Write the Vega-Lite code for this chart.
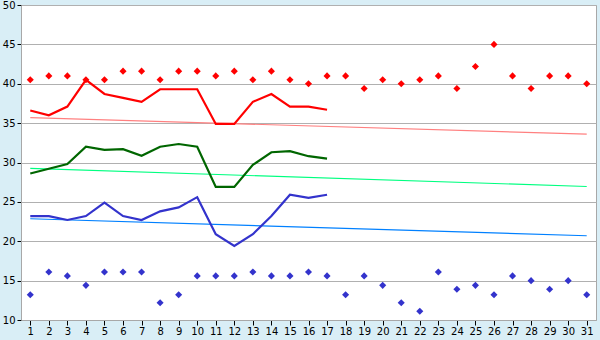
{
  "$schema": "https://vega.github.io/schema/vega-lite/v6.json",
  "autosize": "none",
  "width": 575,
  "height": 315,
  "padding": {"left": 21, "top": 5, "right": 4, "bottom": 20},
  "background": "#d9eef6",
  "config": {
    "view": {"fill": "white", "stroke": "#a8a8a8", "strokeWidth": 1},
    "axis": {"labelFont": "DejaVu Sans", "labelFontSize": 10, "labelColor": "#000000", "domainColor": "#a8a8a8", "tickColor": "#000000", "title": null}
  },
  "datasets": {
    "avg": [
      {"day": 1, "s": "max", "v": 36.6}, {"day": 2, "s": "max", "v": 36.0}, {"day": 3, "s": "max", "v": 37.1}, {"day": 4, "s": "max", "v": 40.5}, {"day": 5, "s": "max", "v": 38.7}, {"day": 6, "s": "max", "v": 38.2}, {"day": 7, "s": "max", "v": 37.7}, {"day": 8, "s": "max", "v": 39.3}, {"day": 9, "s": "max", "v": 39.3}, {"day": 10, "s": "max", "v": 39.3}, {"day": 11, "s": "max", "v": 34.9}, {"day": 12, "s": "max", "v": 34.9}, {"day": 13, "s": "max", "v": 37.7}, {"day": 14, "s": "max", "v": 38.7}, {"day": 15, "s": "max", "v": 37.1}, {"day": 16, "s": "max", "v": 37.1}, {"day": 17, "s": "max", "v": 36.7},
      {"day": 1, "s": "mean", "v": 28.6}, {"day": 2, "s": "mean", "v": 29.2}, {"day": 3, "s": "mean", "v": 29.8}, {"day": 4, "s": "mean", "v": 32.0}, {"day": 5, "s": "mean", "v": 31.6}, {"day": 6, "s": "mean", "v": 31.7}, {"day": 7, "s": "mean", "v": 30.85}, {"day": 8, "s": "mean", "v": 32.0}, {"day": 9, "s": "mean", "v": 32.35}, {"day": 10, "s": "mean", "v": 32.0}, {"day": 11, "s": "mean", "v": 26.9}, {"day": 12, "s": "mean", "v": 26.9}, {"day": 13, "s": "mean", "v": 29.7}, {"day": 14, "s": "mean", "v": 31.3}, {"day": 15, "s": "mean", "v": 31.45}, {"day": 16, "s": "mean", "v": 30.8}, {"day": 17, "s": "mean", "v": 30.5},
      {"day": 1, "s": "min", "v": 23.2}, {"day": 2, "s": "min", "v": 23.2}, {"day": 3, "s": "min", "v": 22.7}, {"day": 4, "s": "min", "v": 23.2}, {"day": 5, "s": "min", "v": 24.9}, {"day": 6, "s": "min", "v": 23.2}, {"day": 7, "s": "min", "v": 22.7}, {"day": 8, "s": "min", "v": 23.8}, {"day": 9, "s": "min", "v": 24.3}, {"day": 10, "s": "min", "v": 25.6}, {"day": 11, "s": "min", "v": 20.9}, {"day": 12, "s": "min", "v": 19.4}, {"day": 13, "s": "min", "v": 20.9}, {"day": 14, "s": "min", "v": 23.2}, {"day": 15, "s": "min", "v": 25.9}, {"day": 16, "s": "min", "v": 25.5}, {"day": 17, "s": "min", "v": 25.9}
    ],
    "trend": [
      {"day": 1, "s": "max", "v": 35.7}, {"day": 31, "s": "max", "v": 33.6},
      {"day": 1, "s": "mean", "v": 29.25}, {"day": 31, "s": "mean", "v": 26.95},
      {"day": 1, "s": "min", "v": 22.86}, {"day": 31, "s": "min", "v": 20.7}
    ],
    "pts": [
      {"day": 1, "s": "hi", "v": 40.5}, {"day": 2, "s": "hi", "v": 41.0}, {"day": 3, "s": "hi", "v": 41.0}, {"day": 4, "s": "hi", "v": 40.5}, {"day": 5, "s": "hi", "v": 40.5}, {"day": 6, "s": "hi", "v": 41.6}, {"day": 7, "s": "hi", "v": 41.6}, {"day": 8, "s": "hi", "v": 40.5}, {"day": 9, "s": "hi", "v": 41.6}, {"day": 10, "s": "hi", "v": 41.6}, {"day": 11, "s": "hi", "v": 41.0}, {"day": 12, "s": "hi", "v": 41.6}, {"day": 13, "s": "hi", "v": 40.5}, {"day": 14, "s": "hi", "v": 41.6}, {"day": 15, "s": "hi", "v": 40.5}, {"day": 16, "s": "hi", "v": 40.0}, {"day": 17, "s": "hi", "v": 41.0}, {"day": 18, "s": "hi", "v": 41.0}, {"day": 19, "s": "hi", "v": 39.4}, {"day": 20, "s": "hi", "v": 40.5}, {"day": 21, "s": "hi", "v": 40.0}, {"day": 22, "s": "hi", "v": 40.5}, {"day": 23, "s": "hi", "v": 41.0}, {"day": 24, "s": "hi", "v": 39.4}, {"day": 25, "s": "hi", "v": 42.2}, {"day": 26, "s": "hi", "v": 45.0}, {"day": 27, "s": "hi", "v": 41.0}, {"day": 28, "s": "hi", "v": 39.4}, {"day": 29, "s": "hi", "v": 41.0}, {"day": 30, "s": "hi", "v": 41.0}, {"day": 31, "s": "hi", "v": 40.0},
      {"day": 1, "s": "lo", "v": 13.2}, {"day": 2, "s": "lo", "v": 16.1}, {"day": 3, "s": "lo", "v": 15.6}, {"day": 4, "s": "lo", "v": 14.4}, {"day": 5, "s": "lo", "v": 16.1}, {"day": 6, "s": "lo", "v": 16.1}, {"day": 7, "s": "lo", "v": 16.1}, {"day": 8, "s": "lo", "v": 12.2}, {"day": 9, "s": "lo", "v": 13.2}, {"day": 10, "s": "lo", "v": 15.6}, {"day": 11, "s": "lo", "v": 15.6}, {"day": 12, "s": "lo", "v": 15.6}, {"day": 13, "s": "lo", "v": 16.1}, {"day": 14, "s": "lo", "v": 15.6}, {"day": 15, "s": "lo", "v": 15.6}, {"day": 16, "s": "lo", "v": 16.1}, {"day": 17, "s": "lo", "v": 15.6}, {"day": 18, "s": "lo", "v": 13.2}, {"day": 19, "s": "lo", "v": 15.6}, {"day": 20, "s": "lo", "v": 14.4}, {"day": 21, "s": "lo", "v": 12.2}, {"day": 22, "s": "lo", "v": 11.1}, {"day": 23, "s": "lo", "v": 16.1}, {"day": 24, "s": "lo", "v": 13.9}, {"day": 25, "s": "lo", "v": 14.4}, {"day": 26, "s": "lo", "v": 13.2}, {"day": 27, "s": "lo", "v": 15.6}, {"day": 28, "s": "lo", "v": 15.0}, {"day": 29, "s": "lo", "v": 13.9}, {"day": 30, "s": "lo", "v": 15.0}, {"day": 31, "s": "lo", "v": 13.2}
    ]
  },
  "encoding": {
    "x": {
      "field": "day", "type": "quantitative",
      "scale": {"domain": [0.5, 31.5], "nice": false, "zero": false},
      "axis": {"values": [1,2,3,4,5,6,7,8,9,10,11,12,13,14,15,16,17,18,19,20,21,22,23,24,25,26,27,28,29,30,31], "grid": false, "tickSize": 5, "labelPadding": 1, "labelFlush": false, "labelOverlap": false}
    },
    "y": {
      "field": "v", "type": "quantitative",
      "scale": {"domain": [10, 50], "nice": false, "zero": false},
      "axis": {"values": [10,15,20,25,30,35,40,45,50], "grid": true, "gridColor": "#b0b0b0", "gridOpacity": 1, "tickSize": 4, "labelPadding": 2, "labelFlush": false}
    }
  },
  "layer": [
    {
      "data": {"name": "trend"},
      "mark": {"type": "line", "strokeWidth": 1.2},
      "encoding": {
        "color": {"field": "s", "type": "nominal", "scale": {"domain": ["max", "mean", "min"], "range": ["#ff8080", "#00ff80", "#0080ff"]}, "legend": null}
      }
    },
    {
      "data": {"name": "avg"},
      "mark": {"type": "line", "strokeWidth": 2.2},
      "encoding": {
        "color": {"field": "s", "type": "nominal", "scale": {"domain": ["max", "mean", "min"], "range": ["#ff0000", "#006600", "#3333cc"]}, "legend": null}
      }
    },
    {
      "data": {"name": "pts"},
      "mark": {"type": "point", "shape": "diamond", "filled": true, "size": 50, "opacity": 1},
      "encoding": {
        "color": {"field": "s", "type": "nominal", "scale": {"domain": ["hi", "lo"], "range": ["#ff0000", "#3333cc"]}, "legend": null}
      }
    }
  ],
  "resolve": {"scale": {"color": "independent"}}
}
